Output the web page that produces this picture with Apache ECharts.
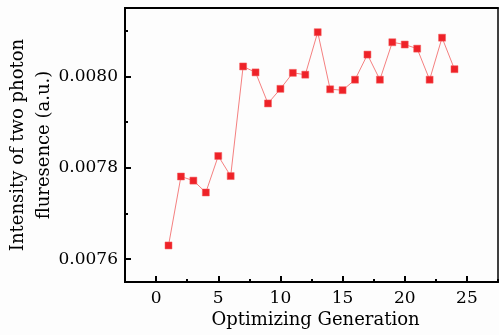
<!DOCTYPE html>
<html><head><meta charset="utf-8">
<script src="https://cdn.jsdelivr.net/npm/echarts@6/dist/echarts.min.js"></script>
<style>html,body{margin:0;padding:0;background:#fdfdfd}#c{width:499px;height:335px}</style>
</head><body><div id="c"></div>
<script>
const generations = [1,2,3,4,5,6,7,8,9,10,11,12,13,14,15,16,17,18,19,20,21,22,23,24];
const intensity = [0.007630,0.007781,0.007772,0.007746,0.007826,0.007782,0.008022,0.008009,0.007941,0.007973,0.008008,0.008004,0.008097,0.007972,0.007970,0.007993,0.008048,0.007993,0.008075,0.008070,0.008061,0.007993,0.008085,0.008016];
const xTitle = 'Optimizing Generation';
const yTitle = 'Intensity of two photon\nfluresence (a.u.)';
const xMin = -2.5, xMax = 27.5, yMin = 0.00755, yMax = 0.00815;

const FONT = '"DejaVu Serif", serif';
const chart = echarts.init(document.getElementById('c'));
const data = generations.map((g,i)=>[g,intensity[i]]);
const line = (w)=>({show:true,onZero:false,lineStyle:{color:'#000',width:w}});
chart.setOption({
  backgroundColor:'#fdfdfd',
  animation:false,
  textStyle:{fontFamily:FONT},
  grid:{left:125,top:8,right:1,bottom:53,containLabel:false,outerBoundsMode:'none'},
  xAxis:[
    {type:'value',min:xMin,max:xMax,splitNumber:6,position:'bottom',
      axisLine:line(2),splitLine:{show:false},
      axisTick:{show:true,inside:true,length:6,lineStyle:{color:'#000',width:2}},
      axisLabel:{showMinLabel:false,showMaxLabel:false,color:'#000',fontFamily:FONT,fontSize:17,margin:8},
      name:xTitle,nameLocation:'middle',nameGap:29,nameMoveOverlap:false,
      nameTextStyle:{color:'#000',fontFamily:FONT,fontSize:18,padding:[0,0,0,8]}},
    {type:'value',min:xMin,max:xMax,interval:2.5,position:'bottom',offset:0,
      axisLine:line(2),splitLine:{show:false},
      axisTick:{show:true,inside:true,length:3,lineStyle:{color:'#000',width:2}},
      axisLabel:{show:false}},
    {type:'value',min:xMin,max:xMax,position:'top',offset:0,
      axisLine:line(2),axisTick:{show:false},axisLabel:{show:false},splitLine:{show:false}}
  ],
  yAxis:[
    {type:'value',min:yMin,max:yMax,splitNumber:3,position:'left',
      axisLine:line(2),splitLine:{show:false},
      axisTick:{show:true,inside:true,length:6,lineStyle:{color:'#000',width:2}},
      axisLabel:{showMinLabel:false,showMaxLabel:false,color:'#000',fontFamily:FONT,fontSize:17,margin:7,
        formatter:v=>v.toFixed(4)},
      name:yTitle,nameLocation:'middle',nameGap:68,nameMoveOverlap:false,
      nameTextStyle:{color:'#000',fontFamily:FONT,fontSize:18,lineHeight:26,align:'center'}},
    {type:'value',min:yMin,max:yMax,splitNumber:6,position:'left',offset:0,
      axisLine:line(2),splitLine:{show:false},
      axisTick:{show:true,inside:true,length:3,lineStyle:{color:'#000',width:2}},
      axisLabel:{show:false}},
    {type:'value',min:yMin,max:yMax,position:'right',offset:0,
      axisLine:line(1.5),axisTick:{show:false},axisLabel:{show:false},splitLine:{show:false}}
  ],
  series:[{
    type:'line',data:data,xAxisIndex:0,yAxisIndex:0,
    symbol:'rect',symbolSize:7,
    lineStyle:{color:'#f58080',width:1},
    itemStyle:{color:'#ee2228',borderColor:'#f56060',borderWidth:0.5}
  }]
});
</script></body></html>
